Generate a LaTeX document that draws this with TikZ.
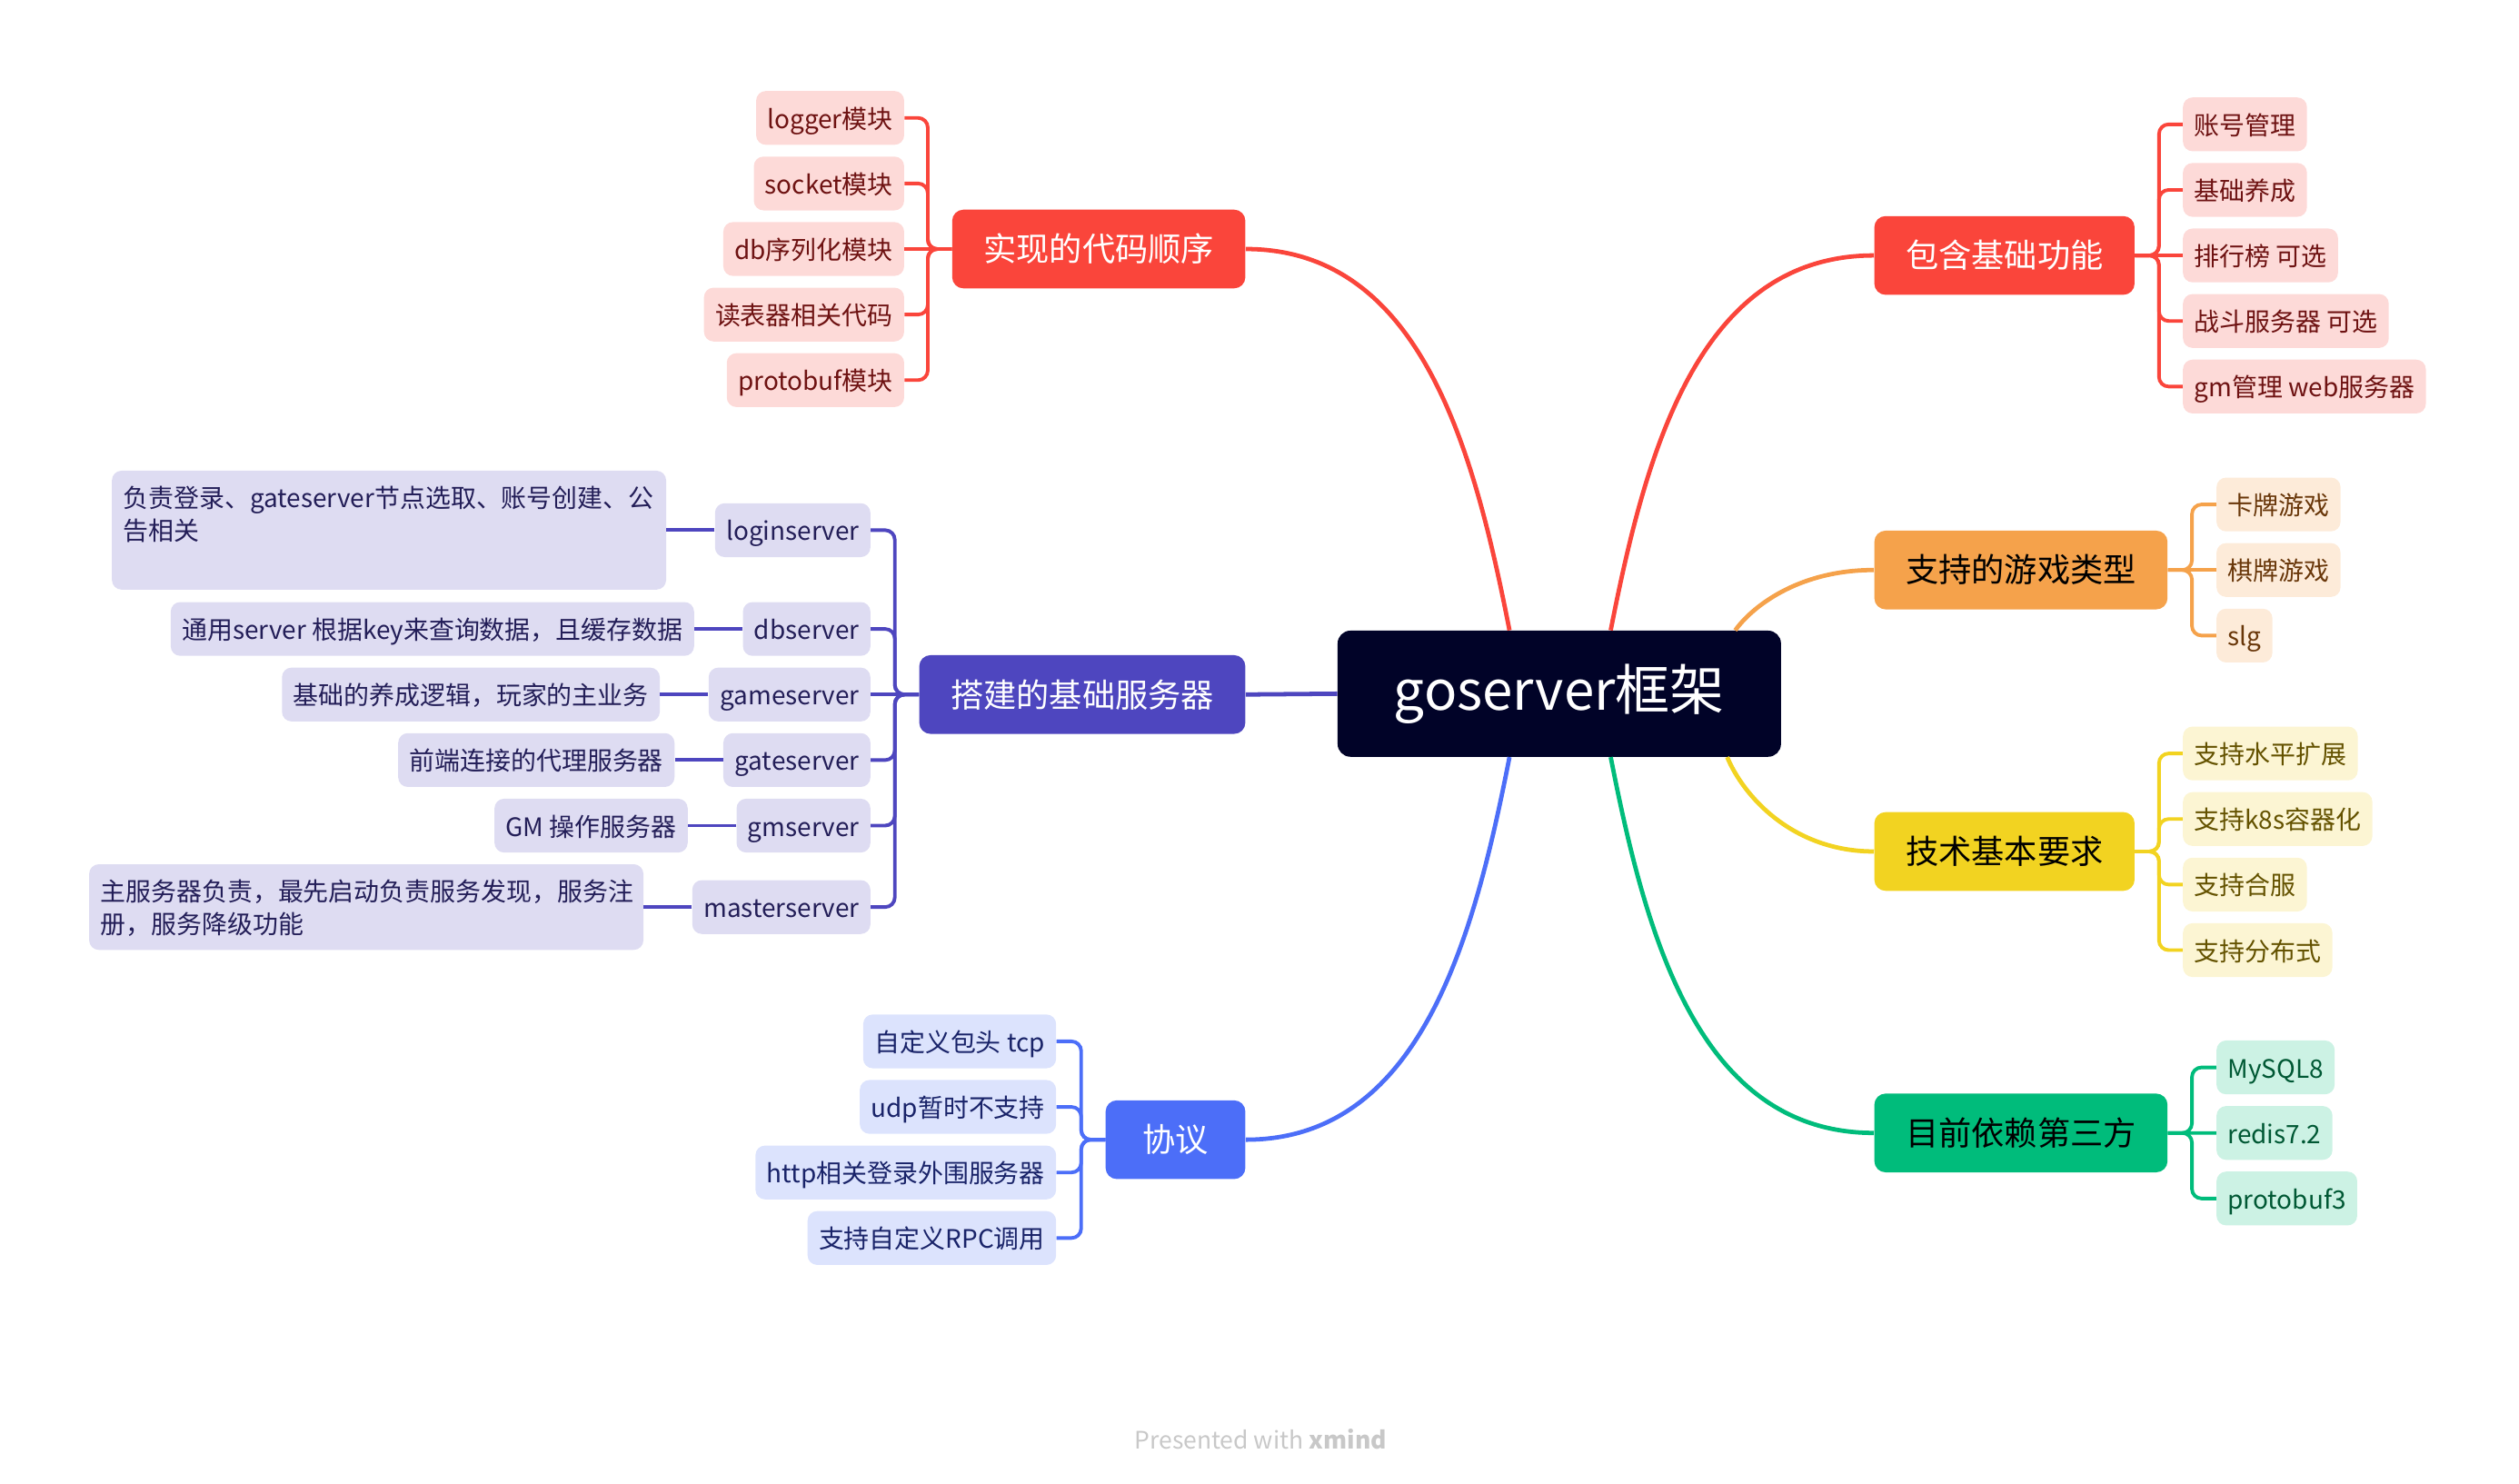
\documentclass[tikz,border=0pt]{standalone}
\usepackage{fontspec}
\setmainfont{Noto Sans CJK SC}

\definecolor{rootc}{RGB}{1,3,40}
\definecolor{redc}{RGB}{250,69,59}
\definecolor{redfill}{RGB}{253,218,216}
\definecolor{redtext}{RGB}{110,18,18}
\definecolor{orangec}{RGB}{245,162,75}
\definecolor{orangefill}{RGB}{253,235,217}
\definecolor{orangetext}{RGB}{105,55,10}
\definecolor{yellowc}{RGB}{242,211,33}
\definecolor{yellowfill}{RGB}{252,245,211}
\definecolor{yellowtext}{RGB}{100,82,0}
\definecolor{greenc}{RGB}{0,188,123}
\definecolor{greenfill}{RGB}{204,242,228}
\definecolor{greentext}{RGB}{0,88,52}
\definecolor{purplec}{RGB}{78,70,191}
\definecolor{purplefill}{RGB}{222,220,242}
\definecolor{purpletext}{RGB}{35,30,88}
\definecolor{bluec}{RGB}{76,110,248}
\definecolor{bluefill}{RGB}{220,227,253}
\definecolor{bluetext}{RGB}{25,35,105}
\definecolor{footgray}{RGB}{200,200,200}

\tikzset{
	root/.style={fill=rootc, text=white, rounded corners=8pt, minimum width=276pt, minimum height=78.5pt, font=\fontsize{34}{40}\selectfont},
	topic/.style={rounded corners=7pt, inner xsep=19.5pt, inner ysep=0pt, minimum height=49pt, minimum width=87pt, font=\fontsize{20.5}{24}\selectfont},
	leaf/.style={rounded corners=6pt, inner xsep=7pt, inner ysep=8.6pt, minimum height=33.5pt, text height=14.4pt, text depth=1.4pt, font=\fontsize{15.8}{20.3}\selectfont},
	trunk/.style={line width=2.7pt},
	twig/.style={line width=2.2pt, rounded corners=6pt},
}

\begin{document}
\begin{tikzpicture}[x=1pt, y=-1pt]
		\useasboundingbox (0,0) rectangle (1568,923.2);
		
		%centre
		\node[root] (root) at (970.6,431.8) {goserver框架};
		
		%main topics
		\node[topic, fill=redc, text=white, anchor=west] (func) at (1166.5,159) {包含基础功能};
		\node[topic, fill=orangec, text=black, anchor=west] (games) at (1166.5,354.8) {支持的游戏类型};
		\node[topic, fill=yellowc, text=black, anchor=west] (tech) at (1166.5,530) {技术基本要求};
		\node[topic, fill=greenc, text=black, anchor=west] (deps) at (1166.5,705.2) {目前依赖第三方};
		\node[topic, fill=redc, text=white, anchor=east] (order) at (775.4,155) {实现的代码顺序};
		\node[topic, fill=purplec, text=white, anchor=east] (servers) at (775.4,432.3) {搭建的基础服务器};
		\node[topic, fill=bluec, text=white, anchor=east] (proto) at (775.4,709.4) {协议};
		
		\draw[trunk, redc] ([xshift=32pt]root.north) .. controls +(22,-112) and +(-109,0) .. (func.west);
		\draw[trunk, orangec] ([xshift=109.5pt]root.north) .. controls +(10,-14) and +(-48,0) .. (games.west);
		\draw[trunk, yellowc] ([xshift=104.5pt]root.south) .. controls +(10,24) and +(-51,0) .. (tech.west);
		\draw[trunk, greenc] ([xshift=32pt]root.south) .. controls +(22,112) and +(-109,0) .. (deps.west);
		\draw[trunk, redc] ([xshift=-31pt]root.north) .. controls +(-22,-112) and +(109,0) .. (order.east);
		\draw[trunk, purplec] (root.west) -- (servers.east);
		\draw[trunk, bluec] ([xshift=-31pt]root.south) .. controls +(-22,112) and +(109,0) .. (proto.east);
		
		%right side leaves
		\foreach \t [count=\i] in {账号管理, 基础养成, 排行榜 可选, 战斗服务器 可选, gm管理 web服务器}{
			\node[leaf, fill=redfill, text=redtext, anchor=west] (func\i) at (1358.6,{36.6+40.8*\i}) {\t};
			\ifnum\i=3 \draw[twig, redc] (func.east) -- (func\i.west);
			\else \draw[twig, redc] (func.east) -- ++(15,0) |- (func\i.west); \fi
		}
		\foreach \t [count=\i] in {卡牌游戏, 棋牌游戏, slg}{
			\node[leaf, fill=orangefill, text=orangetext, anchor=west] (games\i) at (1379.5,{273.2+40.8*\i}) {\t};
			\ifnum\i=2 \draw[twig, orangec] (games.east) -- (games\i.west);
			\else \draw[twig, orangec] (games.east) -- ++(15,0) |- (games\i.west); \fi
		}
		\foreach \t [count=\i] in {支持水平扩展, 支持k8s容器化, 支持合服, 支持分布式}{
			\node[leaf, fill=yellowfill, text=yellowtext, anchor=west] (tech\i) at (1358.6,{428.2+40.8*\i}) {\t};
			\draw[twig, yellowc] (tech.east) -- ++(15,0) |- (tech\i.west);
		}
		\foreach \t [count=\i] in {MySQL8, redis7.2, protobuf3}{
			\node[leaf, fill=greenfill, text=greentext, anchor=west] (deps\i) at (1379.5,{623.6+40.8*\i}) {\t};
			\ifnum\i=2 \draw[twig, greenc] (deps.east) -- (deps\i.west);
			\else \draw[twig, greenc] (deps.east) -- ++(15,0) |- (deps\i.west); \fi
		}
		
		%left side leaves
		\foreach \t [count=\i] in {logger模块, socket模块, db序列化模块, 读表器相关代码, protobuf模块}{
			\node[leaf, fill=redfill, text=redtext, anchor=east] (order\i) at (563,{32.6+40.8*\i}) {\t};
			\ifnum\i=3 \draw[twig, redc] (order.west) -- (order\i.east);
			\else \draw[twig, redc] (order.west) -- ++(-15,0) |- (order\i.east); \fi
		}
		\foreach \t/\y [count=\i] in {loginserver/330, dbserver/391.5, gameserver/432.3, gateserver/473.1, gmserver/513.9, masterserver/564.6}{
			\node[leaf, fill=purplefill, text=purpletext, anchor=east] (srv\i) at (542,\y) {\t};
			\ifnum\i=3 \draw[twig, purplec] (servers.west) -- (srv\i.east);
			\else \draw[twig, purplec] (servers.west) -- ++(-15,0) |- (srv\i.east); \fi
		}
		\foreach \t [count=\i] in {自定义包头 tcp, udp暂时不支持, http相关登录外围服务器, 支持自定义RPC调用}{
			\node[leaf, fill=bluefill, text=bluetext, anchor=east] (proto\i) at (657.6,{607.4+40.8*\i}) {\t};
			\draw[twig, bluec] (proto.west) -- ++(-15,0) |- (proto\i.east);
		}
		
		%server notes
		\node[leaf, fill=purplefill, text=purpletext, anchor=east, text width=331pt, align=left, text depth=42.4pt] (note1) at ([xshift=-30pt]srv1.west) {负责登录、gateserver节点选取、账号创建、公\\告相关};
		\node[leaf, fill=purplefill, text=purpletext, anchor=east] (note2) at ([xshift=-30pt]srv2.west) {通用server 根据key来查询数据，且缓存数据};
		\node[leaf, fill=purplefill, text=purpletext, anchor=east] (note3) at ([xshift=-30pt]srv3.west) {基础的养成逻辑，玩家的主业务};
		\node[leaf, fill=purplefill, text=purpletext, anchor=east] (note4) at ([xshift=-30pt]srv4.west) {前端连接的代理服务器};
		\node[leaf, fill=purplefill, text=purpletext, anchor=east] (note5) at ([xshift=-30pt]srv5.west) {GM 操作服务器};
		\node[leaf, fill=purplefill, text=purpletext, anchor=east, text width=331pt, align=left, text depth=21.7pt] (note6) at ([xshift=-30pt]srv6.west) {主服务器负责，最先启动负责服务发现，服务注\\册，服务降级功能};
		\foreach \i in {1,...,6}{
			\draw[twig, purplec] (srv\i.west) -- (note\i.east);
		}
		
		\node[text=footgray, font=\fontsize{15}{18}\selectfont] (credit) at (784.7,896) {Presented with \textbf{xmind}};
\end{tikzpicture}
\end{document}
